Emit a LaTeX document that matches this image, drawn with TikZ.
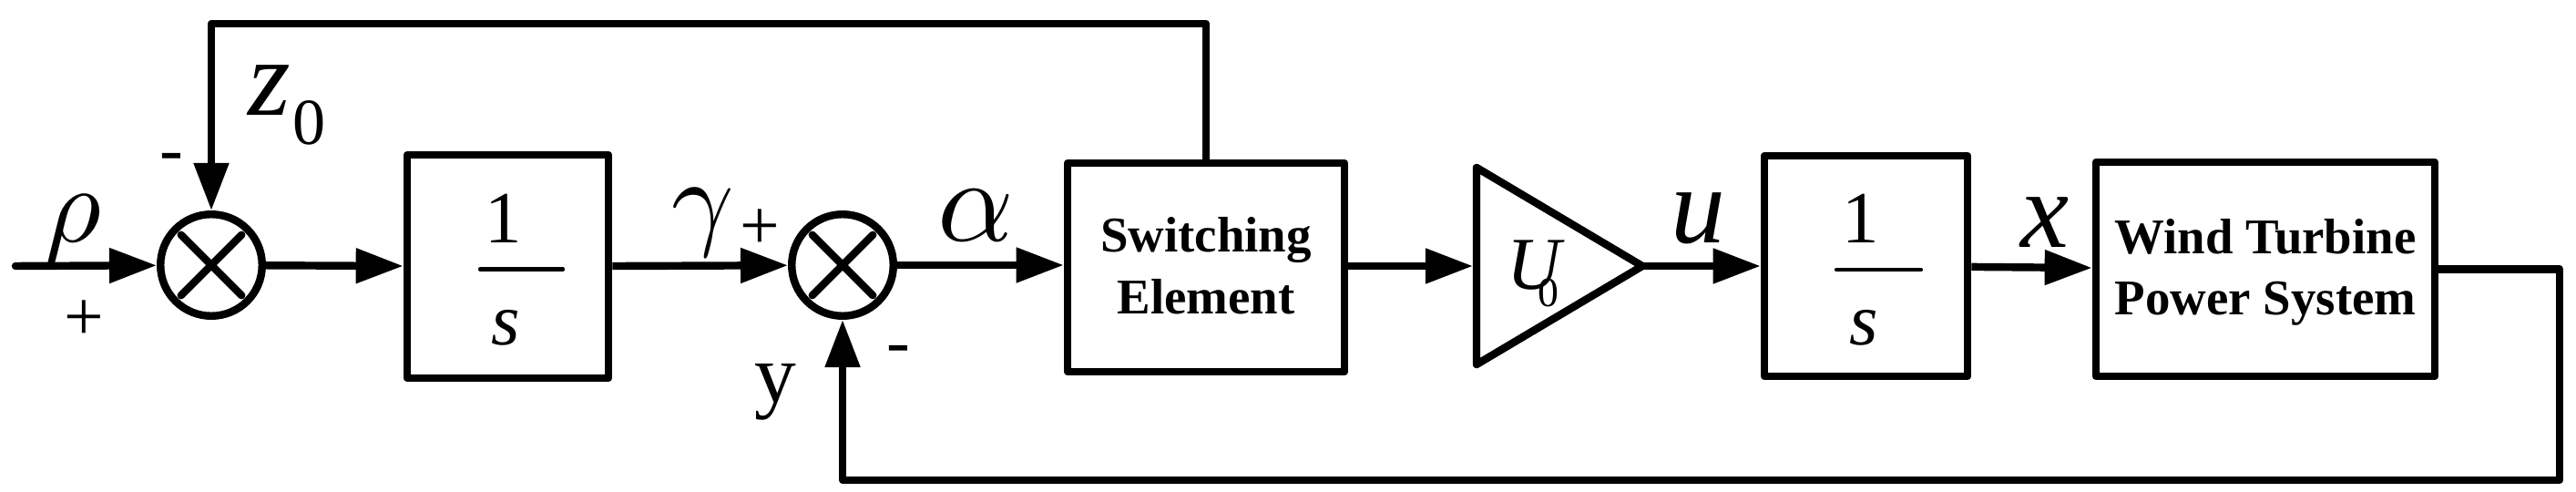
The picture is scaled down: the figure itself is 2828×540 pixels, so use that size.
\documentclass[tikz,border=0pt]{standalone}
\usepackage{fontspec}
\setmainfont{Liberation Serif}
\usetikzlibrary{arrows.meta}
\begin{document}
\begin{tikzpicture}[x=0.01cm,y=-0.01cm,
  line width=2.4pt, line join=round,
  >={Triangle[length=14.8pt,width=10.5pt]},
  sumnode/.style={circle,draw,minimum size=1.115cm,inner sep=0pt},
  blk/.style={rectangle,draw,inner sep=0pt},
  lbl/.style={inner sep=0pt,anchor=base},
  mathbig/.style={lbl,font=\fontsize{34pt}{34pt}\selectfont\itshape},
  greek/.style={lbl,font=\fontsize{10pt}{10pt}\selectfont},
  signlbl/.style={inner sep=0pt,font=\fontsize{22pt}{22pt}\selectfont},
  fraclbl/.style={lbl,font=\fontsize{23pt}{23pt}\selectfont},
  boldtxt/.style={lbl,font=\fontsize{15.6pt}{19pt}\selectfont\bfseries},
  crossline/.style={line cap=round}
]
\useasboundingbox (0,0) rectangle (2828,540);

% blocks
\node[sumnode] (s1) at (232,291) {};
\node[blk,minimum width=2.21cm,minimum height=2.45cm] (b1) at (557.5,292.5) {};
\node[sumnode] (s2) at (925,291) {};
\node[blk,minimum width=3.04cm,minimum height=2.29cm] (sw) at (1324,293.5) {};
\node[blk,minimum width=2.23cm,minimum height=2.42cm] (b2) at (2048.5,292) {};
\node[blk,minimum width=3.72cm,minimum height=2.35cm] (wt) at (2487,295.5) {};

% amplifier triangle
\coordinate (ampTop) at (1621,184);
\coordinate (ampBot) at (1621,400);
\coordinate (ampE) at (1803,292);
\coordinate (ampW) at (1617,292);
\draw (ampTop) -- (ampE) -- (ampBot) -- cycle;

% crosses in summing junctions
\foreach \n in {s1,s2}{
  \draw[crossline] ([shift={(45:47)}]\n.center) -- ([shift={(225:47)}]\n.center);
  \draw[crossline] ([shift={(135:47)}]\n.center) -- ([shift={(315:47)}]\n.center);
}

% fraction bars
\draw[line width=1.2pt,line cap=round] (527,295.5) -- (618,295.5);
\draw[line width=1.2pt,line cap=round] (2016,296) -- (2109,296);

% connectors
\coordinate (in) at (17,292);
\coordinate (fbT) at (232,26);
\coordinate (fbR) at (2810,527);
\draw[->,line cap=round] (in) -- (s1);
\draw[->] (s1) -- (b1);
\draw[->] (b1) -- (s2);
\draw[->] (s2.east) -- (s2.east -| sw.west);
\draw[->] (sw.east |- ampW) -- (ampW);
\draw[->] (ampE) -- (b2);
\draw[->] (b2) -- (wt);
\draw[->] (wt.east) -| (fbR) -| (s2.south);
\draw[->] (sw.north) |- (fbT) -- (s1.north);

% labels
\node[greek] (rho) at (80,266) {\scalebox{3.4}{$\rho$}};
\node[signlbl] (p1) at (92,352) {+};
\node[signlbl,anchor=base] (m1) at (188,190) {-};
\node[mathbig] (z) at (296,127) {z};
\node[lbl,font=\fontsize{20.5pt}{20.5pt}\selectfont] (z0) at (340,159) {0};
\node[greek] (gam) at (772,259) {\scalebox{3.4}{$\gamma$}};
\node[signlbl] (p2) at (834,252) {+};
\node[lbl,font=\fontsize{26pt}{26pt}\selectfont] (ylab) at (851,441) {y};
\node[signlbl,anchor=base] (m2) at (986,400) {-};
\node[greek] (alp) at (1071,265) {\scalebox{3.7}{$\alpha$}};
\node[lbl,anchor=base west,font=\fontsize{23.3pt}{23.3pt}\selectfont] (U) at (1650,318)
  {\itshape U\kern-0.3em\raisebox{-0.5ex}{\upshape\fontsize{13pt}{13pt}\selectfont 0}};
\node[mathbig] (ulab) at (1864,267) {u};
\node[mathbig] (xlab) at (2245,272) {x};
\node[fraclbl] (n1) at (553,267) {1};
\node[fraclbl,font=\fontsize{23pt}{23pt}\selectfont\itshape] (d1) at (555,379) {s};
\node[fraclbl] (n2) at (2043,267) {1};
\node[fraclbl,font=\fontsize{23pt}{23pt}\selectfont\itshape] (d2) at (2046,379) {s};
\node[boldtxt] (sw1) at (1324,277) {Switching};
\node[boldtxt] (sw2) at (1324,344) {Element};
\node[boldtxt] (wt1) at (2487,279) {Wind Turbine};
\node[boldtxt] (wt2) at (2487,346) {Power System};
\end{tikzpicture}
\end{document}
